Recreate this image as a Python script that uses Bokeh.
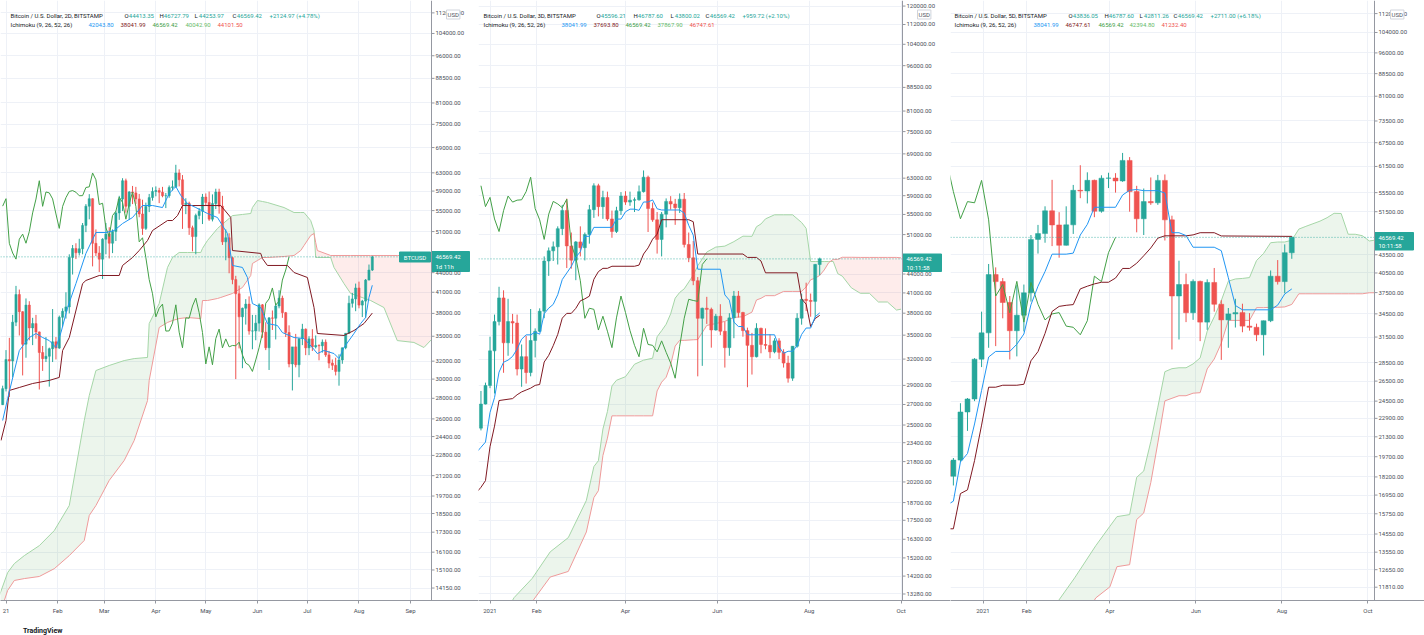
import numpy as np
import pandas as pd
from bokeh.plotting import figure
from bokeh.layouts import row, column
from bokeh.models import FixedTicker, PrintfTickFormatter, Range1d, Span, Label, Div
from bokeh.embed import file_html
from bokeh.resources import INLINE

# ------------------------------------------------------------------ data
# Panel 1 : BTCUSD 2D candles (first bar 2020-12-30, one bar every 2 days)
p1_first_bar = "2020-12-30"
p1_open = [27360, 28990, 32190, 32020, 36820, 40670, 38240, 34010, 39150, 36070,
           36630, 35550, 33010, 32290, 32570, 33470, 34310, 33540, 37470, 38290,
           38900, 46480, 47990, 47260, 47940, 52150, 55890, 57410, 48890, 47220,
           46190, 49630, 50540, 48910, 51010, 54550, 57330, 61240, 55850, 58810,
           58620, 57360, 54340, 51590, 55840, 57630, 58920, 59100, 58760, 58020,
           58040, 59770, 59900, 62970, 61450, 56220, 56470, 51700, 50090, 54030,
           54880, 57750, 56630, 53330, 56400, 58800, 55860, 49150, 49880, 46430,
           42910, 40780, 37530, 38710, 39290, 35660, 35680, 36690, 39190, 35520,
           33580, 37390, 37340, 39020, 40140, 38100, 35480, 31680, 33690, 31590,
           34700, 35910, 33570, 34670, 33690, 33860, 33820, 34260, 32730, 31780,
           31530, 30840, 32140, 33580, 35380, 39410, 40030, 41640, 39150, 39720,
           42840, 44413.35]
p1_high = [29300, 33300, 34800, 37800, 41950, 41400, 38300, 40100, 39700, 37400,
           37800, 35600, 33800, 34900, 33600, 38600, 34900, 37700, 38700, 41000,
           47000, 48600, 48900, 49700, 52600, 56300, 58350, 57500, 51400, 48400,
           49800, 52600, 51800, 51400, 54900, 58000, 61800, 61700, 59000, 60100,
           59900, 58400, 57200, 56600, 58400, 59800, 60000, 59700, 59900, 58600,
           60200, 61300, 64850, 63800, 62500, 57500, 56800, 52100, 54400, 55500,
           58400, 58500, 58900, 58300, 59500, 59500, 58000, 51400, 50700, 46600,
           43500, 42000, 38800, 40000, 40400, 37800, 37800, 39400, 39300, 36800,
           37500, 38400, 39400, 41300, 40500, 38200, 36400, 33300, 35300, 34700,
           36600, 36000, 35000, 35900, 35100, 34000, 34600, 34600, 33200, 32200,
           32400, 32800, 33600, 35400, 40500, 40900, 42300, 42600, 39900, 43000,
           45300, 46727.79]
p1_low = [27330, 28700, 28130, 30200, 36300, 35100, 30400, 32400, 34500, 33900,
          34700, 28900, 30900, 31900, 29200, 31900, 32200, 33450, 36200, 37300,
          38000, 43700, 46200, 46800, 47000, 50900, 53300, 45000, 46700, 44100,
          43000, 47000, 46300, 47200, 49300, 53200, 54900, 54600, 53200, 56300,
          56300, 53700, 50400, 51300, 54700, 57000, 57900, 56500, 57700, 55500,
          57600, 59100, 59700, 60000, 51500, 54300, 50400, 47500, 47000, 53300,
          52400, 56000, 53000, 52900, 55300, 54400, 48600, 46000, 43900, 42200,
          30000, 33500, 31200, 36500, 35200, 33400, 34500, 35600, 34800, 33300,
          31000, 35800, 34600, 38700, 37400, 34900, 31300, 28800, 31300, 30200,
          33900, 32700, 32700, 33200, 33500, 32100, 33000, 32500, 31200, 31000,
          30400, 29300, 31700, 33400, 35300, 38800, 38300, 38700, 37500, 37400,
          42800, 44253.97]
p1_close = [28990, 32190, 32020, 36820, 40670, 38240, 34010, 39150, 36070, 36630,
            35550, 33010, 32290, 32570, 33470, 34310, 33540, 37470, 38290, 38900,
            46480, 47990, 47260, 47940, 52150, 55890, 57410, 48890, 47220, 46190,
            49630, 50540, 48910, 51010, 54550, 57330, 61240, 55850, 58810, 58620,
            57360, 54340, 51590, 55840, 57630, 58920, 59100, 58760, 58020, 58040,
            59770, 59900, 62970, 61450, 56220, 56470, 51700, 50090, 54030, 54880,
            57750, 56630, 53330, 56400, 58800, 55860, 49150, 49880, 46430, 42910,
            40780, 37530, 38710, 39290, 35660, 35680, 36690, 39190, 35520, 33580,
            37390, 37340, 39020, 40140, 38100, 35480, 31680, 33690, 31590, 34700,
            35910, 33570, 34670, 33690, 33860, 33820, 34260, 32730, 31780, 31530,
            30840, 32140, 33580, 35380, 39410, 40030, 41640, 39150, 39720, 42840,
            44413.35, 46569.42]

p1_tenkan_dates = ["2020-12-30", "2021-01-02", "2021-01-09", "2021-01-15", "2021-01-19", "2021-01-23",
                   "2021-01-27", "2021-01-31", "2021-02-03", "2021-02-07", "2021-02-12", "2021-02-18",
                   "2021-02-24", "2021-03-02", "2021-03-07", "2021-03-12", "2021-03-18", "2021-03-24",
                   "2021-03-30", "2021-04-05", "2021-04-09", "2021-04-13", "2021-04-16", "2021-04-20",
                   "2021-04-25", "2021-05-02", "2021-05-08", "2021-05-11", "2021-05-14", "2021-05-17",
                   "2021-05-23", "2021-05-26", "2021-05-29", "2021-06-03", "2021-06-07", "2021-06-13",
                   "2021-06-16", "2021-06-23", "2021-06-29", "2021-07-04", "2021-07-07", "2021-07-11",
                   "2021-07-17", "2021-07-20", "2021-07-23", "2021-07-29", "2021-08-02", "2021-08-05",
                   "2021-08-07", "2021-08-09"]
p1_tenkan = [25850, 27980, 33250, 34840, 35350, 34840, 34460, 33610, 35470, 38810,
             42300, 47150, 50830, 50830, 51200, 52500, 53650, 56010, 56010, 55610,
             58490, 59980, 58070, 56420, 55610, 54430, 53650, 52120, 50650, 45150,
             44830, 43240, 39370, 38810, 36640, 36380, 35470, 34840, 34720, 33610,
             32890, 33250, 32890, 32300, 33610, 35350, 36640, 37440, 40240, 42043.80]
p1_kijun_dates = ["2020-12-29", "2021-01-01", "2021-01-03", "2021-01-09", "2021-01-17", "2021-01-27",
                  "2021-02-02", "2021-02-04", "2021-02-08", "2021-02-16", "2021-02-18", "2021-02-26",
                  "2021-03-10", "2021-03-12", "2021-03-18", "2021-03-22", "2021-03-27", "2021-03-30",
                  "2021-04-08", "2021-04-11", "2021-04-14", "2021-04-17", "2021-05-10", "2021-05-16",
                  "2021-05-17", "2021-06-03", "2021-06-04", "2021-06-07", "2021-06-19", "2021-06-23",
                  "2021-07-01", "2021-07-05", "2021-07-07", "2021-07-23", "2021-07-29", "2021-08-04",
                  "2021-08-09"]
p1_kijun = [24060, 25850, 28800, 29110, 29530, 29860, 30180, 33250, 34840, 42300,
            42780, 43550, 43550, 45150, 46460, 47640, 49390, 51200, 53070, 53070,
            54020, 56010, 56010, 53650, 47640, 47150, 46290, 45150, 45150, 44020,
            43240, 38810, 35350, 35100, 35730, 36640, 38041.99]
p1_cloud_dates = ["2020-12-28", "2021-01-02", "2021-01-06", "2021-01-12", "2021-01-21", "2021-01-30",
                  "2021-02-08", "2021-02-17", "2021-02-20", "2021-02-24", "2021-03-04", "2021-03-13",
                  "2021-03-19", "2021-03-27", "2021-03-28", "2021-04-03", "2021-04-08", "2021-04-11",
                  "2021-04-15", "2021-04-20", "2021-04-28", "2021-04-29", "2021-05-02", "2021-05-08",
                  "2021-05-10", "2021-05-17", "2021-05-23", "2021-05-28", "2021-05-29", "2021-06-01",
                  "2021-06-04", "2021-06-07", "2021-06-17", "2021-06-23", "2021-06-27", "2021-06-29",
                  "2021-07-03", "2021-07-05", "2021-07-06", "2021-07-07", "2021-07-15", "2021-07-17",
                  "2021-07-23", "2021-07-27", "2021-08-08", "2021-08-16", "2021-08-24", "2021-09-03",
                  "2021-09-09", "2021-09-17"]
p1_span_a = [13770, 14960, 15450, 15900, 16480, 17400, 19040, 25850, 28280, 30940,
             31510, 32070, 32300, 32430, 36640, 39370, 44830, 46460, 47310, 47310,
             47310, 48000, 49390, 51570, 52120, 54020, 54240, 54430, 55610, 57030,
             56830, 56630, 55610, 54620, 54620, 54620, 53070, 51200, 46460, 46460,
             46460, 44830, 42300, 40820, 39800, 38810, 34460, 34230, 33610, 35350]
p1_span_b = [12820, 14030, 14540, 14640, 14750, 15170, 15900, 16790, 18370, 19040,
             20840, 22390, 24060, 27770, 29860, 36120, 36780, 37040, 37300, 37440,
             37300, 39800, 39800, 40090, 40240, 40820, 41710, 43550, 45470, 45960,
             46460, 46460, 46630, 46800, 47640, 48510, 50290, 50650, 49040, 47640,
             46800, 46800, 46800, 46800, 46800, 46800, 46800, 46800, 46800, 46800]
p1_yticks = [14150, 15100, 16100, 17300, 18500, 19700, 21200, 22800, 24400, 26000, 28000,
             30000, 32000, 35000, 38000, 41000, 44000, 51000, 55000, 59000, 63000, 69000,
             75000, 81000, 88500, 96000, 104000, 112000]
p1_xtick_dates = ["2021-01-01", "2021-02-01", "2021-03-01", "2021-04-01", "2021-05-01",
                  "2021-06-01", "2021-07-01", "2021-08-01", "2021-09-01"]
p1_xtick_labels = ["21", "Feb", "Mar", "Apr", "May", "Jun", "Jul", "Aug", "Sep"]

# Panel 2 : BTCUSD 3D candles (first bar 2020-12-26, one bar every 3 days)
p2_first_bar = "2020-12-26"
p2_open = [24710, 27040, 28990, 33000, 36820, 40240, 34010, 36830, 36630, 30830,
           32290, 30430, 34310, 35510, 38290, 46200, 47990, 48720, 52150, 55840,
           48890, 46340, 49630, 48560, 51010, 56000, 61240, 56630, 58620, 54080,
           51590, 55780, 58920, 57600, 58020, 58100, 59900, 63230, 56220, 53900,
           50090, 55050, 57750, 57200, 56400, 58230, 49150, 46760, 42910, 37280,
           38710, 38550, 35680, 37570, 35520, 33400, 37340, 40520, 38100, 35600,
           33690, 32280, 35910, 33800, 33690, 32880, 34260, 32820, 31530, 29790,
           33580, 37290, 40030, 39850, 39720, 45596.21]
p2_high = [28400, 29300, 34800, 37800, 41950, 41400, 40100, 37900, 37800, 33800,
           34900, 38600, 35900, 38700, 47000, 48600, 49700, 52600, 57000, 58350,
           51400, 49800, 52600, 51400, 57000, 61800, 61700, 60100, 59900, 55800,
           56600, 59800, 60000, 59900, 58600, 61300, 64850, 63600, 57500, 55500,
           55500, 58400, 58900, 58300, 59500, 59600, 51400, 49800, 43500, 38800,
           40400, 38800, 37900, 39300, 36800, 38000, 41300, 41300, 38200, 36000,
           35300, 36600, 36000, 35900, 35100, 34600, 34600, 33200, 32400, 33600,
           38000, 40900, 42600, 40900, 45700, 46787.60]
p2_low = [24500, 27000, 28700, 28130, 36300, 30400, 32400, 33900, 30100, 28850,
          29200, 30000, 32200, 35400, 37300, 43700, 46200, 45600, 50900, 45000,
          44900, 43000, 47000, 46300, 49300, 54300, 54600, 54100, 53700, 50400,
          51300, 54900, 57000, 56800, 55500, 57900, 59700, 51500, 53500, 47500,
          47000, 52400, 56000, 52900, 55300, 48600, 46000, 42200, 30000, 31200,
          36500, 33400, 35600, 35000, 31000, 32400, 34600, 37400, 34800, 28800,
          30200, 32200, 32700, 33200, 32100, 32700, 32000, 31000, 29300, 29500,
          33400, 36400, 38300, 37500, 37400, 43800.02]
p2_close = [27040, 28990, 33000, 36820, 40240, 34010, 36830, 36630, 30830, 32290,
            30430, 34310, 35510, 38290, 46200, 47990, 48720, 52150, 55840, 48890,
            46340, 49630, 48560, 51010, 56000, 61240, 56630, 58620, 54080, 51590,
            55780, 58920, 57600, 58020, 58100, 59900, 63230, 56220, 53900, 50090,
            55050, 57750, 57200, 56400, 58230, 49150, 46760, 42910, 37280, 38710,
            38550, 35680, 37570, 35520, 33400, 37340, 40520, 38100, 35600, 33690,
            32280, 35910, 33800, 33690, 32880, 34260, 32820, 31530, 29790, 33580,
            37290, 40030, 39850, 39720, 45610, 46569.42]
p2_tenkan_dates = ["2020-12-24", "2020-12-26", "2020-12-29", "2021-01-01", "2021-01-04", "2021-01-07",
                   "2021-01-10", "2021-01-13", "2021-01-16", "2021-01-19", "2021-01-22", "2021-01-25",
                   "2021-01-28", "2021-01-31", "2021-02-03", "2021-02-06", "2021-02-09", "2021-02-12",
                   "2021-02-15", "2021-02-18", "2021-02-21", "2021-02-24", "2021-02-27", "2021-03-02",
                   "2021-03-05", "2021-03-08", "2021-03-11", "2021-03-23", "2021-03-26", "2021-03-29",
                   "2021-04-01", "2021-04-04", "2021-04-07", "2021-04-10", "2021-04-13", "2021-04-16",
                   "2021-04-19", "2021-04-22", "2021-04-25", "2021-05-07", "2021-05-10", "2021-05-13",
                   "2021-05-16", "2021-05-19", "2021-06-03", "2021-06-06", "2021-06-09", "2021-06-12",
                   "2021-06-15", "2021-06-18", "2021-06-21", "2021-07-09", "2021-07-12", "2021-07-15",
                   "2021-07-18", "2021-07-21", "2021-07-24", "2021-07-27", "2021-07-30", "2021-08-02",
                   "2021-08-05", "2021-08-08"]
p2_tenkan = [22700, 23000, 23450, 26200, 27700, 30475, 31625, 31875, 32325, 33225,
             34475, 35040, 35040, 35400, 35125, 37925, 38725, 39275, 40725, 43100,
             44175, 45275, 46875, 47825, 50675, 50675, 52400, 52400, 54050, 54050,
             55550, 56100, 56100, 55850, 57625, 57625, 58075, 56175, 55925, 55925,
             55300, 52800, 50900, 44800, 44800, 40700, 39900, 36750, 36150, 36150,
             35050, 35050, 33500, 32700, 32950, 32950, 33650, 35100, 35950, 35950,
             37500, 38041.99]
p2_kijun_dates = ["2020-12-24", "2020-12-26", "2020-12-29", "2021-01-01", "2021-01-04", "2021-01-07",
                  "2021-01-16", "2021-01-19", "2021-01-22", "2021-01-25", "2021-01-28", "2021-01-31",
                  "2021-02-03", "2021-02-06", "2021-02-09", "2021-02-12", "2021-02-15", "2021-02-18",
                  "2021-02-21", "2021-02-24", "2021-02-27", "2021-03-02", "2021-03-05", "2021-03-08",
                  "2021-03-11", "2021-03-14", "2021-03-17", "2021-03-20", "2021-03-23", "2021-04-07",
                  "2021-04-10", "2021-04-13", "2021-04-16", "2021-04-19", "2021-04-22", "2021-04-25",
                  "2021-05-13", "2021-05-16", "2021-05-19", "2021-06-18", "2021-06-21", "2021-06-27",
                  "2021-06-30", "2021-07-03", "2021-07-24", "2021-07-27", "2021-07-30", "2021-08-02",
                  "2021-08-05", "2021-08-08"]
p2_kijun = [19540, 19800, 20300, 23050, 24900, 27400, 27600, 28000, 28300, 28500,
            28700, 29000, 29100, 31650, 32450, 33650, 35100, 37300, 37975, 37975,
            38700, 39800, 40100, 40500, 43150, 44400, 44950, 44950, 45300, 45300,
            45500, 47425, 48525, 50125, 51075, 53925, 53925, 53525, 47425, 47425,
            46825, 46825, 46200, 44200, 44200, 40100, 39300, 36150, 37250, 37693.80]
p2_cloud_dates = ["2020-12-24", "2021-01-05", "2021-01-17", "2021-01-29", "2021-02-10", "2021-02-22",
                  "2021-03-06", "2021-03-11", "2021-03-14", "2021-03-17", "2021-03-20", "2021-03-23",
                  "2021-03-26", "2021-04-01", "2021-04-07", "2021-04-13", "2021-04-19", "2021-04-22",
                  "2021-04-25", "2021-04-28", "2021-05-01", "2021-05-04", "2021-05-07", "2021-05-10",
                  "2021-05-16", "2021-05-19", "2021-05-25", "2021-05-31", "2021-06-06", "2021-06-12",
                  "2021-06-18", "2021-06-24", "2021-06-27", "2021-06-30", "2021-07-03", "2021-07-09",
                  "2021-07-15", "2021-07-21", "2021-07-27", "2021-07-30", "2021-08-02", "2021-08-05",
                  "2021-08-08", "2021-08-11", "2021-08-14", "2021-08-17", "2021-08-20", "2021-08-23",
                  "2021-08-29", "2021-09-04", "2021-09-10", "2021-09-16", "2021-09-22", "2021-09-28",
                  "2021-10-01"]
p2_span_a = [10975, 11650, 13100, 14075, 15550, 16400, 18850, 21400, 21875, 24625,
             26300, 28940, 29560, 29960, 31390, 31870, 32110, 34790, 35590, 36460,
             37910, 40200, 41075, 41625, 43810, 45390, 47775, 48675, 48850, 49675,
             50700, 50675, 52525, 53075, 54100, 54925, 54925, 54925, 53360, 52210,
             46110, 46110, 46110, 46110, 46110, 46110, 44060, 43660, 41790, 40940,
             40940, 39625, 39625, 38450, 38575]
p2_span_b = [10300, 11000, 12300, 12900, 14150, 14450, 16750, 19050, 19550, 22300,
             23800, 25875, 25875, 25875, 25875, 25875, 25875, 28400, 29350, 29900,
             31350, 33600, 34325, 34325, 34400, 34425, 36300, 36550, 36850, 37400,
             37500, 38150, 39925, 40175, 40575, 40575, 41225, 41225, 41225, 41925,
             43075, 43325, 43775, 44675, 45925, 46490, 46490, 46850, 46850, 46825,
             46825, 46825, 46825, 46825, 46747.61]
p2_yticks = [13280, 14200, 15200, 16300, 17500, 18700, 20200, 21800, 23400, 25000, 27000,
             29000, 32000, 35000, 38000, 41000, 44000, 51000, 55000, 59000, 63000, 69000,
             75000, 81000, 88500, 96000, 104000, 112000, 120000]
p2_xtick_dates = ["2021-01-01", "2021-02-01", "2021-04-01", "2021-06-01", "2021-08-01", "2021-10-01"]
p2_xtick_labels = ["2021", "Feb", "Apr", "Jun", "Aug", "Oct"]

# Panel 3 : BTCUSD 5D candles (first bar 2020-12-06, one bar every 5 days)
p3_first_bar = "2020-12-06"
p3_open = [19360, 18250, 19440, 23480, 24710, 28880, 32020, 40240, 39150, 36070, 32290,
           34320, 37470, 46200, 47260, 51680, 48890, 45140, 48910, 56000, 55850,
           58240, 51590, 58730, 58760, 58100, 62970, 55720, 50090, 53580, 53330,
           58230, 49880, 37000, 38710, 34650, 39190, 33400, 39020, 35820, 33690,
           34490, 34670, 32880, 32730, 31780, 33580, 39990, 39150, 43836.05]
p3_high = [19420, 19600, 24300, 24800, 29000, 34800, 41950, 41400, 39700, 37000, 38600,
           38700, 47000, 48900, 52600, 58350, 51400, 52600, 57200, 61800, 60100,
           58400, 59400, 60000, 59900, 64850, 63800, 57000, 56400, 58900, 59500,
           59600, 50700, 42500, 40400, 39500, 39300, 39500, 41300, 36400, 35300,
           36600, 35900, 34600, 33200, 33600, 40900, 42600, 45300, 46787.60]
p3_low = [17650, 17600, 19300, 21800, 24500, 28000, 30200, 30400, 33900, 28850, 29200,
          32200, 36200, 43700, 45600, 45000, 43000, 45100, 47200, 54300, 53200,
          50400, 51300, 56500, 55500, 57900, 51500, 47500, 47000, 52900, 52900,
          46000, 30000, 31200, 33400, 33700, 31000, 32400, 34800, 28800, 30200,
          32700, 32100, 32300, 31000, 29300, 33400, 38700, 37400, 42811.26]
p3_close = [18250, 19440, 23480, 24710, 28880, 32020, 40240, 39150, 36070, 32290, 34320,
            37470, 46200, 47260, 51680, 48890, 45140, 48910, 56000, 55850, 58240,
            51590, 58730, 58760, 58100, 62970, 55720, 50090, 53580, 53330, 58230,
            49880, 37000, 38710, 34650, 39190, 33400, 39020, 35820, 33690, 34490,
            34670, 32880, 32730, 31780, 33580, 39990, 39150, 43858, 46569.42]
p3_tenkan_dates = ["2020-12-06", "2020-12-11", "2020-12-16", "2020-12-21", "2020-12-26", "2020-12-31",
                   "2021-01-05", "2021-01-10", "2021-01-20", "2021-01-25", "2021-01-30", "2021-02-04",
                   "2021-02-09", "2021-02-14", "2021-02-19", "2021-03-01", "2021-03-06", "2021-03-11",
                   "2021-03-16", "2021-03-21", "2021-04-05", "2021-04-10", "2021-04-15", "2021-04-20",
                   "2021-04-25", "2021-05-05", "2021-05-10", "2021-05-15", "2021-05-20", "2021-05-25",
                   "2021-05-30", "2021-06-14", "2021-06-19", "2021-06-24", "2021-06-29", "2021-07-04",
                   "2021-07-24", "2021-07-29", "2021-08-03", "2021-08-08"]
p3_tenkan = [16270, 16550, 19300, 19950, 22400, 25550, 29125, 29775, 29775, 30625,
             31875, 35750, 38450, 40725, 43600, 43600, 43775, 47000, 49000, 52400,
             52400, 54975, 56025, 56175, 55925, 55925, 55425, 47425, 47425, 46900,
             44800, 44800, 44200, 39750, 35650, 35050, 35050, 35700, 37300, 38041.99]
p3_kijun_dates = ["2020-12-06", "2020-12-11", "2020-12-16", "2020-12-21", "2020-12-26", "2020-12-31",
                  "2021-01-05", "2021-01-10", "2021-01-15", "2021-01-25", "2021-01-30", "2021-02-04",
                  "2021-02-09", "2021-02-14", "2021-02-19", "2021-02-24", "2021-03-01", "2021-03-06",
                  "2021-03-11", "2021-03-16", "2021-03-21", "2021-03-26", "2021-03-31", "2021-04-05",
                  "2021-04-10", "2021-04-15", "2021-04-20", "2021-04-25", "2021-04-30", "2021-05-05",
                  "2021-05-10", "2021-05-25", "2021-05-30", "2021-06-04", "2021-06-14", "2021-06-19",
                  "2021-08-08"]
p3_kijun = [14850, 14850, 17050, 17300, 19400, 22300, 25875, 25875, 26075, 26075,
            26175, 28700, 29750, 31950, 34825, 35525, 35675, 35775, 38050, 38450,
            38800, 39050, 39050, 39700, 41225, 41225, 42075, 43325, 44675, 46425,
            46850, 46850, 47025, 47425, 47425, 46825, 46747.61]
p3_cloud_dates = ["2020-12-07", "2021-01-06", "2021-02-05", "2021-02-20", "2021-03-07", "2021-03-22",
                  "2021-04-01", "2021-04-06", "2021-04-15", "2021-04-20", "2021-04-25", "2021-04-30",
                  "2021-05-05", "2021-05-10", "2021-05-15", "2021-05-20", "2021-05-25", "2021-05-30",
                  "2021-06-04", "2021-06-09", "2021-06-14", "2021-06-19", "2021-06-24", "2021-06-29",
                  "2021-07-04", "2021-07-09", "2021-07-14", "2021-07-19", "2021-07-24", "2021-07-29",
                  "2021-08-03", "2021-08-08", "2021-08-13", "2021-08-18", "2021-08-23", "2021-08-28",
                  "2021-09-02", "2021-09-07", "2021-09-12", "2021-09-17", "2021-09-22", "2021-09-27",
                  "2021-10-02", "2021-10-07"]
p3_span_a = [10400, 10700, 10675, 10900, 12250, 13900, 15000, 15575, 15700, 18175,
             18625, 20900, 23925, 27500, 27825, 27925, 27925, 28350, 29025, 32225,
             34100, 36340, 39210, 39560, 39640, 39775, 42525, 43725, 45600, 45725,
             45725, 46050, 48100, 48625, 49125, 49625, 50300, 51175, 51140, 47140,
             47140, 46875, 45910, 46110]
p3_span_b = [7975, 8175, 8175, 8500, 9875, 11325, 11825, 12800, 12900, 15400,
             15800, 17800, 20800, 24525, 24775, 25025, 25025, 25275, 25325, 27800,
             28900, 30750, 33625, 33625, 33625, 33625, 35350, 35350, 35400, 35400,
             35450, 35800, 37325, 37325, 37325, 37325, 37325, 37325, 37325, 37325,
             37325, 37325, 37475, 37475]
p3_yticks = [11810, 12650, 13550, 14550, 15750, 16950, 18200, 19700, 21300, 22900, 24500,
             26500, 28500, 31500, 34500, 37500, 40500, 43500, 51500, 55500, 61500,
             67500, 73500, 81000, 88500, 96000, 104000, 112000]
p3_xtick_dates = ["2021-01-01", "2021-02-01", "2021-04-01", "2021-06-01", "2021-08-01", "2021-10-01"]
p3_xtick_labels = ["2021", "Feb", "Apr", "Jun", "Aug", "Oct"]

last_price = 46569.42

# ------------------------------------------------------------------ style
UP, DOWN = "#26a69a", "#ef5350"
C_TENKAN, C_KIJUN, C_CHIKOU = "#2196f3", "#801922", "#43a047"
C_SPAN_A, C_SPAN_B = "#a5d6a7", "#ef9a9a"
DARK = "#131722"
AXIS = "#9598a1"
FONT = "Roboto"
BASE = pd.Timestamp("2021-01-01")
FRAME_H = 600


def to_days(dates):
    return np.array([(pd.Timestamp(d) - BASE) / pd.Timedelta(days=1) for d in dates])


def cloud_polygons(x, a, b):
    la, lb = np.log(a), np.log(b)
    polys = []
    top, bot = [(x[0], a[0])], [(x[0], b[0])]
    sign = 1 if la[0] >= lb[0] else -1
    for i in range(len(x) - 1):
        d0, d1 = la[i] - lb[i], la[i + 1] - lb[i + 1]
        if d0 * d1 < 0:
            t = d0 / (d0 - d1)
            xc = x[i] + t * (x[i + 1] - x[i])
            yc = float(np.exp(la[i] + t * (la[i + 1] - la[i])))
            top.append((xc, yc)); bot.append((xc, yc))
            polys.append((sign, top, bot))
            top, bot = [(xc, yc)], [(xc, yc)]
            sign = 1 if d1 > 0 else -1
        top.append((x[i + 1], a[i + 1])); bot.append((x[i + 1], b[i + 1]))
    polys.append((sign, top, bot))
    xs, ys, cols = [], [], []
    for s, t, bt in polys:
        pts = t + bt[::-1]
        xs.append([q[0] for q in pts]); ys.append([q[1] for q in pts])
        cols.append("#43a047" if s > 0 else "#f44336")
    return xs, ys, cols


def make_panel(cfg):
    j1, ppd = cfg["jan1_px"], cfg["ppd"]
    left, W, axis_px = cfg["left"], cfg["width"], cfg["axis_px"]
    ytop, ybot = cfg["ytop"], cfg["ybot"]

    def px2x(px):
        return (px - j1) / ppd

    def px2y(py):
        return ytop * (ybot / ytop) ** (py / FRAME_H)

    p = figure(width=W, height=FRAME_H + 20,
               x_range=Range1d(px2x(left), px2x(left + W)),
               y_range=Range1d(ybot, ytop), y_axis_type="log", y_axis_location="right",
               output_backend="svg", toolbar_location=None,
               min_border_left=0, min_border_top=0, min_border_right=0, min_border_bottom=20)
    p.outline_line_color = None
    p.background_fill_color = "white"
    p.border_fill_color = "white"
    p.xgrid.grid_line_color = "#eef1f7"
    p.ygrid.grid_line_color = "#eef1f7"

    # price scale: real axis whose labels are pulled back over the scale strip
    p.yaxis.ticker = FixedTicker(ticks=cfg["yticks"])
    p.yaxis.formatter = PrintfTickFormatter(format="%.2f")
    p.yaxis.axis_line_color = None
    p.yaxis.major_tick_line_color = None
    p.yaxis.major_tick_out = 0
    p.yaxis.major_tick_in = 0
    p.yaxis.major_label_standoff = cfg["label_px"] - (left + W)
    xt = [int(v) for v in to_days(cfg["xtick_dates"])]
    p.xaxis.ticker = FixedTicker(ticks=xt)
    p.xaxis.major_label_overrides = {t: l for t, l in zip(xt, cfg["xtick_labels"])}
    p.xaxis.axis_line_color = AXIS
    p.xaxis.major_tick_line_color = AXIS
    p.xaxis.major_tick_out = 3
    p.xaxis.major_tick_in = 0
    p.xaxis.major_label_standoff = 3
    for ax in (p.xaxis, p.yaxis):
        ax.minor_tick_line_color = None
        ax.major_label_text_font_size = "6px"
        ax.major_label_text_font = FONT
        ax.major_label_text_color = "#4a4e59"

    # cloud
    cx = to_days(cfg["cloud_dates"])
    xs, ys, cols = cloud_polygons(cx, np.array(cfg["span_a"], float), np.array(cfg["span_b"], float))
    p.patches(xs=xs, ys=ys, fill_color=cols, fill_alpha=0.1, line_color=None)
    p.line(cx, cfg["span_a"], line_color=C_SPAN_A, line_width=1)
    p.line(cx, cfg["span_b"], line_color=C_SPAN_B, line_width=1)

    # candles
    n = len(cfg["open"])
    bx = to_days(pd.date_range(cfg["first_bar"], periods=n, freq=f"{cfg['step']}D"))
    o, h, l, c = (np.array(cfg[k], float) for k in ("open", "high", "low", "close"))
    colors = [UP if cc >= oo else DOWN for oo, cc in zip(o, c)]
    p.segment(x0=bx, y0=l, x1=bx, y1=h, line_color=colors, line_width=1)
    p.vbar(x=bx, width=cfg["body_w"], top=np.maximum(o, c), bottom=np.minimum(o, c),
           fill_color=colors, line_color=colors, line_width=0.5)

    # lagging span: closes displaced 25 bars back
    p.line(bx[:-25], c[25:], line_color=C_CHIKOU, line_width=1)
    p.line(to_days(cfg["kijun_dates"]), cfg["kijun"], line_color=C_KIJUN, line_width=1)
    p.line(to_days(cfg["tenkan_dates"]), cfg["tenkan"], line_color=C_TENKAN, line_width=1)

    # current price dotted line
    p.line([px2x(left), px2x(axis_px)], [last_price, last_price], line_color=UP,
           line_dash="1 2", line_alpha=0.8, line_width=1)

    # price-scale strip: white background, separator, tick marks
    p.quad(left=px2x(axis_px + 0.5), right=px2x(left + W), bottom=ybot, top=ytop,
           fill_color="white", line_color=None)
    yt = np.array(cfg["yticks"], float)
    p.segment(x0=[px2x(axis_px)] * len(yt), x1=[px2x(axis_px + 3)] * len(yt), y0=yt, y1=yt,
              line_color=AXIS, line_width=1)
    p.add_layout(Span(location=px2x(axis_px), dimension="height", line_color=AXIS, line_width=1))

    def lab(px, py, text, color, size="6px", bg=None, border=None, align="left", bold=False):
        kw = dict(x=px2x(px), y=px2y(py), text=text, text_color=color, text_font_size=size,
                  text_font=FONT, text_align=align, text_baseline="middle",
                  text_font_style="bold" if bold else "normal")
        if bg:
            kw["background_fill_color"] = bg
        if border:
            kw["border_line_color"] = border
        try:
            lb = Label(**kw, padding=1)
        except Exception:
            lb = Label(**kw)
        p.add_layout(lb)

    # price tag boxes
    for (x0, x1, y0, y1) in cfg["boxes"]:
        p.quad(left=px2x(x0), right=px2x(x1), bottom=px2y(y1), top=px2y(y0),
               fill_color=UP, line_color=UP)
    for args, kwargs in cfg["extra"]:
        lab(*args, **kwargs)
    for text, px, col in cfg["legend1"]:
        lab(px, 15, text, col)
    for text, px, col in cfg["legend2"]:
        lab(px, 24, text, col)
    return p


def legend(title, x0, ohlc_x, vals, chg, ichi_x, ichi_vals):
    l1 = [(title, x0, DARK)]
    for letter, px, v in zip("OHLC", ohlc_x, vals):
        l1.append((letter, px, DARK))
        l1.append((v, px + 4.3, UP))
    l1.append((chg, ohlc_x[-1] + 37, UP))
    l2 = [("Ichimoku (9, 26, 52, 26)", x0, DARK)]
    for px, v, col in zip(ichi_x, ichi_vals, [C_TENKAN, C_KIJUN, C_CHIKOU, "#66bb6a", "#ef5350"]):
        l2.append((v, px, col))
    return l1, l2


l1a, l2a = legend("Bitcoin / U.S. Dollar, 2D, BITSTAMP", 9, [123, 158, 193, 231],
                  ["44413.35", "46727.79", "44253.97", "46569.42"], "+2124.97 (+4.78%)",
                  [87, 119, 151, 184, 216], ["42043.80", "38041.99", "46569.42", "40042.90", "44101.50"])
l1b, l2b = legend("Bitcoin / U.S. Dollar, 3D, BITSTAMP", 482, [595, 632, 669, 704],
                  ["45596.21", "46787.60", "43800.02", "46569.42"], "+959.72 (+2.10%)",
                  [560, 592, 624, 656, 688], ["38041.99", "37693.80", "46569.42", "37867.90", "46747.61"])
l1c, l2c = legend("Bitcoin / U.S. Dollar, 5D, BITSTAMP", 953, [1067, 1103, 1138, 1172],
                  ["43836.05", "46787.60", "42811.26", "46569.42"], "+2711.00 (+6.18%)",
                  [1032, 1064, 1097, 1128, 1160], ["38041.99", "46747.61", "46569.42", "42394.80", "41232.40"])

USD_STYLE = dict(bg="white", border="#d1d4dc")
cfg1 = dict(left=0, width=478, axis_px=431, label_px=435, jan1_px=5.5, ppd=1.665,
            ytop=117100, ybot=13530, first_bar=p1_first_bar, step=2, body_w=1.3,
            open=p1_open, high=p1_high, low=p1_low, close=p1_close,
            tenkan_dates=p1_tenkan_dates, tenkan=p1_tenkan, kijun_dates=p1_kijun_dates, kijun=p1_kijun,
            cloud_dates=p1_cloud_dates, span_a=p1_span_a, span_b=p1_span_b,
            yticks=p1_yticks, xtick_dates=p1_xtick_dates, xtick_labels=p1_xtick_labels,
            legend1=l1a, legend2=l2a,
            boxes=[(399, 430, 251.5, 261.5), (431.5, 469, 251, 271)],
            extra=[((414.5, 256.5, "BTCUSD", "white"), dict(align="center")),
                   ((434, 256.5, "46569.42", "white"), {}),
                   ((434, 265.5, "1d 11h", "white"), {}),
                   ((446, 14, "USD", "#50535e"), USD_STYLE)])
cfg2 = dict(left=478, width=472, axis_px=902, label_px=906, jan1_px=489.5, ppd=1.5055,
            ytop=122530, ybot=12960, first_bar=p2_first_bar, step=3, body_w=2.0,
            open=p2_open, high=p2_high, low=p2_low, close=p2_close,
            tenkan_dates=p2_tenkan_dates, tenkan=p2_tenkan, kijun_dates=p2_kijun_dates, kijun=p2_kijun,
            cloud_dates=p2_cloud_dates, span_a=p2_span_a, span_b=p2_span_b,
            yticks=p2_yticks, xtick_dates=p2_xtick_dates, xtick_labels=p2_xtick_labels,
            legend1=l1b, legend2=l2b,
            boxes=[(902.5, 941, 253.5, 271)],
            extra=[((905, 258.5, "46569.42", "white"), {}),
                   ((905, 266.5, "10:11:58", "white"), {}),
                   ((917, 14, "USD", "#50535e"), USD_STYLE)])
cfg3 = dict(left=950, width=474, axis_px=1374, label_px=1378, jan1_px=982.5, ppd=1.41,
            ytop=117900, ybot=11210, first_bar=p3_first_bar, step=5, body_w=3.5,
            open=p3_open, high=p3_high, low=p3_low, close=p3_close,
            tenkan_dates=p3_tenkan_dates, tenkan=p3_tenkan, kijun_dates=p3_kijun_dates, kijun=p3_kijun,
            cloud_dates=p3_cloud_dates, span_a=p3_span_a, span_b=p3_span_b,
            yticks=p3_yticks, xtick_dates=p3_xtick_dates, xtick_labels=p3_xtick_labels,
            legend1=l1c, legend2=l2c,
            boxes=[(1374.5, 1413, 232, 249.5)],
            extra=[((1377, 237, "46569.42", "white"), {}),
                   ((1377, 245, "10:11:58", "white"), {}),
                   ((1390, 14, "USD", "#50535e"), USD_STYLE)])

footer = Div(text="TradingView", width=1424, height=15,
             styles={"font-family": "Roboto", "font-size": "7px", "font-weight": "bold",
                     "color": "#131722", "padding-left": "18px", "line-height": "12px"})
layout = column(row(make_panel(cfg1), make_panel(cfg2), make_panel(cfg3), spacing=0), footer,
                spacing=0)
open("out.html", "w").write(file_html(layout, INLINE))
